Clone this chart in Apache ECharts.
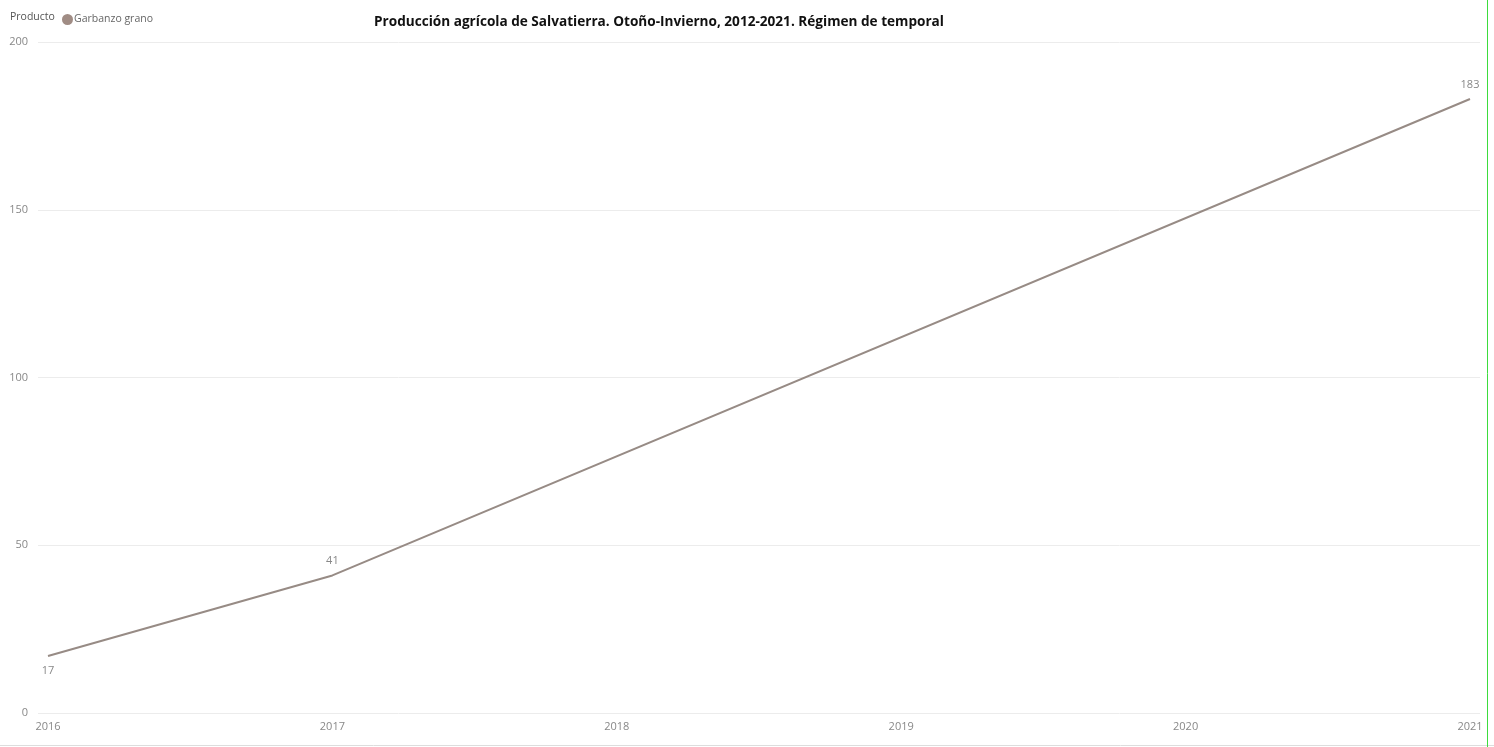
<!DOCTYPE html>
<html><head><meta charset="utf-8">
<script src="https://cdn.jsdelivr.net/npm/echarts@6/dist/echarts.min.js"></script>
<style>html,body{margin:0;padding:0;background:#fff}#c{width:1494px;height:747px}</style>
</head><body><div id="c"></div>
<script>
const titleText = 'Producción agrícola de Salvatierra. Otoño-Invierno, 2012-2021. Régimen de temporal';
const seriesName = 'Garbanzo grano';
const years = [2016, 2017, 2021];
const values = [17, 41, 183];
const yTicks = [0, 50, 100, 150, 200];

const FONT = 'Open Sans';
const chart = echarts.init(document.getElementById('c'));
chart.setOption({
  animation: false,
  title: {
    text: titleText, left: 654, top: 10, textAlign: 'center',
    textStyle: {fontFamily: FONT, fontSize: 13.6, fontWeight: 'bold', color: '#111'}
  },
  graphic: [
    {type: 'text', left: 10, top: 12, style: {text: 'Producto', fontFamily: FONT, fontSize: 10.5, fill: '#555'}},
    {type: 'line', shape: {x1: 0, y1: 745.5, x2: 1494, y2: 745.5}, style: {stroke: '#ddd', lineWidth: 1}},
    {type: 'line', shape: {x1: 1487.5, y1: 0, x2: 1487.5, y2: 747}, style: {stroke: '#3ddc3d', lineWidth: 1}}
  ],
  legend: {
    left: 57, top: 9, itemWidth: 11, itemHeight: 11, icon: 'circle', itemGap: 4,
    textStyle: {fontFamily: FONT, fontSize: 10.5, color: '#666', padding: [0, 0, 0, -4]},
    data: [seriesName]
  },
  grid: [
    {left: 38, right: 14, top: 42, bottom: 34},
    {left: 48, right: 24, top: 42, bottom: 34}
  ],
  xAxis: [
    {gridIndex: 0, type: 'value', show: false, min: 0, max: 1},
    {gridIndex: 1, type: 'value', min: years[0], max: years[years.length - 1], interval: 1,
     axisLine: {show: false}, axisTick: {show: false}, splitLine: {show: false},
     axisLabel: {formatter: v => String(v), fontFamily: FONT, fontSize: 11, color: '#888', margin: 8}}
  ],
  yAxis: [
    {gridIndex: 0, type: 'value', min: yTicks[0], max: yTicks[yTicks.length - 1], interval: 50,
     axisLine: {show: false}, axisTick: {show: false},
     splitLine: {lineStyle: {color: '#ececec', width: 1}},
     axisLabel: {fontFamily: FONT, fontSize: 11, color: '#888', margin: 10}},
    {gridIndex: 1, type: 'value', show: false, min: yTicks[0], max: yTicks[yTicks.length - 1]}
  ],
  series: [{
    name: seriesName, type: 'line', xAxisIndex: 1, yAxisIndex: 1,
    symbol: 'circle', symbolSize: 0,
    itemStyle: {color: '#a08c84'},
    lineStyle: {color: '#978b85', width: 2},
    label: {show: true, fontFamily: FONT, fontSize: 11, color: '#888', distance: 9},
    data: values.map((v, i) => ({value: [years[i], v], label: {position: i === 0 ? 'bottom' : 'top'}}))
  }]
});
</script></body></html>
